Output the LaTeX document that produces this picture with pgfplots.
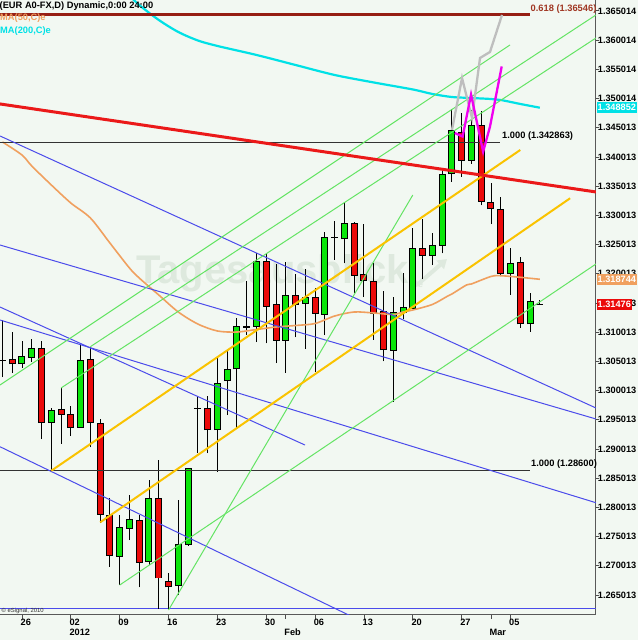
\documentclass[border=0pt]{standalone}
\usepackage{pgfplots}
\pgfplotsset{compat=1.18}
\usepackage{pgfplotstable}
\usepackage{fontspec}
\setmainfont{Liberation Sans}
\usetikzlibrary{arrows.meta}
\definecolor{bg}{RGB}{242,248,242}
\definecolor{wm}{RGB}{222,233,222}
\definecolor{cgreen}{RGB}{10,230,10}
\definecolor{cred}{RGB}{235,10,10}
\definecolor{maroon}{RGB}{150,30,20}
\definecolor{maroonT}{RGB}{160,55,35}
\definecolor{tline}{RGB}{235,25,25}
\definecolor{bline}{RGB}{75,75,235}
\definecolor{gline}{RGB}{100,228,100}
\definecolor{yline}{RGB}{250,195,0}
\definecolor{ma50}{RGB}{240,160,95}
\definecolor{ma200}{RGB}{0,225,230}
\definecolor{mag}{RGB}{240,0,240}
\definecolor{gry}{RGB}{190,190,190}

% green candles (close > open)
\pgfplotstableread{
i o h l c
0 1.3047 1.3085 1.3039 1.3057
1 1.3058 1.3088 1.3049 1.3071
3 1.2946 1.2970 1.2863 1.2965
6 1.2938 1.3081 1.2938 1.3051
10 1.2717 1.2787 1.2667 1.2764
11 1.2765 1.2821 1.2744 1.2778
13 1.2709 1.2847 1.2701 1.2814
16 1.2667 1.2813 1.2650 1.2736
17 1.2737 1.2867 1.2734 1.2865
20 1.2934 1.3056 1.2861 1.3012
21 1.3018 1.3067 1.2958 1.3036
22 1.3038 1.3125 1.2936 1.3109
24 1.3111 1.3236 1.3083 1.3220
27 1.3087 1.3220 1.3031 1.3162
29 1.3150 1.3208 1.3071 1.3158
31 1.3132 1.3271 1.3095 1.3261
33 1.3261 1.3322 1.3218 1.3286
38 1.3070 1.3161 1.2981 1.3133
39 1.3135 1.3201 1.3122 1.3141
40 1.3141 1.3278 1.3141 1.3242
42 1.3232 1.3269 1.3215 1.3248
43 1.3249 1.3376 1.3235 1.3369
44 1.3372 1.3482 1.3358 1.3445
46 1.3395 1.3480 1.3388 1.3453
50 1.3201 1.3244 1.3164 1.3216
52 1.3115 1.3167 1.3101 1.3151
}\greentab

% red candles (close < open)
\pgfplotstableread{
i o h l c
-1 1.3052 1.3100 1.3030 1.3047
2 1.3071 1.3085 1.2917 1.2946
4 1.2967 1.3004 1.2909 1.2960
5 1.2958 1.2974 1.2922 1.2938
7 1.3052 1.3075 1.2903 1.2946
8 1.2943 1.2951 1.2774 1.2789
9 1.2786 1.2816 1.2698 1.2719
12 1.2777 1.2787 1.2663 1.2707
14 1.2814 1.2881 1.2626 1.2680
15 1.2673 1.2687 1.2626 1.2665
19 1.2968 1.2991 1.2893 1.2934
25 1.3220 1.3235 1.3081 1.3145
26 1.3146 1.3216 1.3047 1.3087
28 1.3162 1.3199 1.3091 1.3148
30 1.3158 1.3175 1.3032 1.3133
34 1.3285 1.3289 1.3167 1.3198
35 1.3198 1.3286 1.3160 1.3189
36 1.3186 1.3218 1.3087 1.3133
37 1.3135 1.3170 1.3050 1.3071
41 1.3242 1.3294 1.3191 1.3232
45 1.3441 1.3475 1.3366 1.3395
47 1.3453 1.3478 1.3317 1.3325
48 1.3322 1.3356 1.3285 1.3312
49 1.3310 1.3332 1.3196 1.3201
51 1.3218 1.3229 1.3108 1.3115
}\redtab

% doji candles (open = close)
\pgfplotstableread{
i o h l c
-2 1.3052 1.3121 1.3023 1.3052
18 1.2970 1.2990 1.2893 1.2970
23 1.3109 1.3188 1.3096 1.3109
32 1.3262 1.3290 1.3224 1.3262
53 1.3148 1.3155 1.3147 1.3148
}\dojitab

% MA(50)
\pgfplotstableread{
i v
-2 1.34257
0 1.34034
1 1.33846
3 1.33521
5 1.33212
7 1.32956
9 1.32527
11 1.32099
12 1.31928
14 1.31637
16 1.31346
18 1.31140
20 1.31021
22 1.31003
24 1.31046
26 1.31089
28 1.31115
30 1.31149
32 1.31277
34 1.31346
36 1.31329
38 1.31303
39 1.31346
40 1.31380
42 1.31475
43.5 1.31612
44 1.31654
45.5 1.31809
46 1.31826
48 1.31954
49 1.31967
51 1.31940
53 1.31906
}\mafifty

% MA(200)
\pgfplotstableread{
i v
9 1.37373
10 1.37065
11 1.36774
12 1.36603
14 1.36346
16 1.36140
18 1.35995
20 1.35901
24 1.35747
28 1.35575
32 1.35404
36 1.35276
40 1.35156
42 1.35079
44 1.35027
46 1.35010
48 1.34993
49 1.34976
51 1.34908
53 1.34844
}\matwohundred

\begin{document}
\begin{tikzpicture}
\path[use as bounding box, fill=bg] (0pt,-25pt) rectangle (638pt,615pt);
% watermark
\node[anchor=west, inner sep=0pt, text=wm, font=\bfseries\fontsize{40}{40}\selectfont] at (136pt,342pt) {Tagesausblick};
\node[anchor=west, inner sep=0pt, text=wm, font=\bfseries\fontsize{9}{9}\selectfont] at (410pt,331pt) {.de};
\draw[wm, line width=4pt, -{Triangle[length=9pt,width=11pt]}] (417pt,330pt) -- (447pt,356pt);

\begin{axis}[
  at={(0pt,0pt)}, anchor=south west,
  scale only axis, width=596pt, height=615pt,
  xmin=-2.25, xmax=58.75, ymin=1.26158, ymax=1.36688,
  axis x line=bottom, axis y line=right,
  axis line style={draw=black!65, line width=1pt, -},
  tick align=outside,
  major tick length=3.5pt,
  tick style={draw=black!70, line width=0.8pt},
  xtick={0,5,10,15,20,25,27,30,35,40,45,48,50},
  xticklabels={\textbf{26},\textbf{02},\textbf{09},\textbf{16},\textbf{23},\textbf{30},{},\textbf{06},\textbf{13},\textbf{20},\textbf{27},{},\textbf{05}},
  ytick={1.265013,1.270013,1.275013,1.280013,1.285013,1.290013,1.295013,1.300013,1.305013,1.310013,1.315013,1.320013,1.325013,1.330013,1.335013,1.340013,1.345013,1.350014,1.355014,1.360014,1.365014},
  yticklabels={\textbf{1.265013},\textbf{1.270013},\textbf{1.275013},\textbf{1.280013},\textbf{1.285013},\textbf{1.290013},\textbf{1.295013},\textbf{1.300013},\textbf{1.305013},\textbf{1.310013},\textbf{1.315013},\textbf{1.320013},\textbf{1.325013},\textbf{1.330013},\textbf{1.335013},\textbf{1.340013},\textbf{1.345013},\textbf{1.350014},\textbf{1.355014},\textbf{1.360014},\textbf{1.365014}},
  xticklabel style={anchor=north west, inner sep=0pt, xshift=-1.5pt, yshift=-0.5pt},
  yticklabel style={anchor=west, inner sep=0pt, xshift=-1.8pt},
  tick label style={font=\bfseries\fontsize{9.2}{10}\selectfont},
  clip=true,
]
\coordinate (t2012) at (axis cs:5,1.26158);
\coordinate (tfeb) at (axis cs:27,1.26158);
\coordinate (tmar) at (axis cs:48,1.26158);
\coordinate (pcyan) at (axis cs:58.75,1.34844);
\coordinate (porange) at (axis cs:58.75,1.31906);
\coordinate (pred) at (axis cs:58.75,1.31476);

% horizontal blue support line at the bottom
\addplot[bline, line width=1.2pt] coordinates {(-2.25,1.26272) (58.75,1.26272)};

% ---- candles: green ----
\addplot[draw=none, mark=none, error bars/.cd, y dir=plus, y explicit, error mark=none,
  error bar style={draw=black, line width=0.9pt}]
  table[x=i, y=l, y error plus expr=\thisrow{h}-\thisrow{l}] {\greentab};
\addplot[draw=none, mark=none, error bars/.cd, y dir=plus, y explicit, error mark=none,
  error bar style={draw=black, line width=7pt}]
  table[x=i, y expr=\thisrow{o}-0.00017, y error plus expr=\thisrow{c}-\thisrow{o}+0.00034] {\greentab};
\addplot[draw=none, mark=none, error bars/.cd, y dir=plus, y explicit, error mark=none,
  error bar style={draw=cgreen, line width=5pt}]
  table[x=i, y=o, y error plus expr=\thisrow{c}-\thisrow{o}] {\greentab};
% ---- candles: red ----
\addplot[draw=none, mark=none, error bars/.cd, y dir=plus, y explicit, error mark=none,
  error bar style={draw=black, line width=0.9pt}]
  table[x=i, y=l, y error plus expr=\thisrow{h}-\thisrow{l}] {\redtab};
\addplot[draw=none, mark=none, error bars/.cd, y dir=plus, y explicit, error mark=none,
  error bar style={draw=black, line width=7pt}]
  table[x=i, y expr=\thisrow{c}-0.00017, y error plus expr=\thisrow{o}-\thisrow{c}+0.00034] {\redtab};
\addplot[draw=none, mark=none, error bars/.cd, y dir=plus, y explicit, error mark=none,
  error bar style={draw=cred, line width=5pt}]
  table[x=i, y=c, y error plus expr=\thisrow{o}-\thisrow{c}] {\redtab};
% ---- candles: doji ----
\addplot[draw=none, mark=none, error bars/.cd, y dir=plus, y explicit, error mark=none,
  error bar style={draw=black, line width=0.9pt}]
  table[x=i, y=l, y error plus expr=\thisrow{h}-\thisrow{l}] {\dojitab};
\addplot[draw=none, mark=none, error bars/.cd, y dir=plus, y explicit, error mark=none,
  error bar style={draw=black, line width=7pt}]
  table[x=i, y expr=\thisrow{o}-0.0001, y error plus expr=0.0002] {\dojitab};

% ---- moving averages ----
\addplot[ma50, line width=1.6pt, smooth] table[x=i, y=v] {\mafifty};
\addplot[ma200, line width=2.2pt, smooth] table[x=i, y=v] {\matwohundred};

% ---- horizontal Fibonacci levels ----
\addplot[black!80, line width=0.9pt] coordinates {(-2.25,1.34252) (48.93,1.34252)};
\addplot[black!80, line width=0.9pt] coordinates {(-2.25,1.28628) (52.0,1.28628)};

% ---- blue trend lines ----
\addplot[bline, line width=1pt] coordinates {(-2.25,1.34360) (58.75,1.29702)};
\addplot[bline, line width=1pt] coordinates {(-2.25,1.32493) (58.75,1.29514)};
\addplot[bline, line width=1pt] coordinates {(-2.25,1.31209) (58.75,1.28080)};
\addplot[bline, line width=1pt] coordinates {(-2.25,1.31431) (28.97,1.29068)};
\addplot[bline, line width=1pt] coordinates {(-2.25,1.29039) (34.08,1.26106)};

% ---- green channel lines ----
\addplot[gline, line width=1pt] coordinates {(-2.25,1.30096) (49.95,1.35918)};
\addplot[gline, line width=1pt] coordinates {(7.0,1.30752) (58.75,1.36432)};
\addplot[gline, line width=1pt] coordinates {(4.0,1.30045) (58.75,1.36038)};
\addplot[gline, line width=1pt] coordinates {(10.0,1.26671) (58.75,1.32168)};
\addplot[gline, line width=1pt] coordinates {(15.0,1.26243) (40.0,1.33349)};

% ---- yellow channel ----
\addplot[yline, line width=2pt] coordinates {(3.0,1.28628) (51.0,1.34120)};
\addplot[yline, line width=2pt] coordinates {(8.0,1.27745) (56.1,1.33293)};

% ---- red resistance line ----
\addplot[tline, line width=3pt] coordinates {(-2.25,1.34908) (58.75,1.33401)};

% ---- 0.618 level ----
\addplot[maroon, line width=3pt] coordinates {(-2.25,1.36432) (52.0,1.36432)};

% ---- projections ----
\addplot[gry, line width=2.3pt] coordinates {(44.01,1.34462) (45.04,1.35353) (46.06,1.34668) (46.88,1.35695) (47.90,1.35798) (49.13,1.36432)};
\addplot[mag, line width=2.3pt] coordinates {(44.3,1.3441) (45.1,1.3435) (45.96,1.3507) (47.2,1.3409) (47.9,1.3452) (49.1,1.3555)};
\end{axis}

% level labels, clipped at the plot edge
\begin{scope}
\clip (0pt,0pt) rectangle (596pt,615pt);
\node[anchor=west, inner sep=0pt, text=maroonT, font=\bfseries\fontsize{9.3}{10}\selectfont] at (530.5pt,605.7pt) {0.618 (1.36546)};
\node[anchor=west, inner sep=0pt, font=\bfseries\fontsize{9.3}{10}\selectfont] at (502pt,479pt) {1.000 (1.342863)};
\node[anchor=west, inner sep=0pt, font=\bfseries\fontsize{9.3}{10}\selectfont] at (531pt,151pt) {1.000 (1.28600)};
\node[anchor=west, inner sep=0pt, text=black!80, font=\fontsize{5.9}{6}\selectfont] at (1.5pt,4pt) {© eSignal, 2010};
\end{scope}

% header texts
\node[anchor=west, inner sep=0pt, font=\bfseries\fontsize{9.3}{10}\selectfont] at (-0.5pt,608.5pt) {(EUR A0-FX,D) Dynamic,0:00 24:00};
\node[anchor=west, inner sep=0pt, text=ma50, font=\bfseries\fontsize{9.3}{10}\selectfont] at (0pt,596.7pt) {MA(50,C)e};
\node[anchor=west, inner sep=0pt, text=ma200, font=\bfseries\fontsize{9.3}{10}\selectfont] at (0pt,584pt) {MA(200,C)e};

% month / year labels
\node[anchor=north west, inner sep=0pt, font=\bfseries\fontsize{9.2}{10}\selectfont] at ([xshift=-1.5pt,yshift=-14pt]t2012) {2012};
\node[anchor=north west, inner sep=0pt, font=\bfseries\fontsize{9.2}{10}\selectfont] at ([xshift=-1.5pt,yshift=-14pt]tfeb) {Feb};
\node[anchor=north west, inner sep=0pt, font=\bfseries\fontsize{9.2}{10}\selectfont] at ([xshift=-1.5pt,yshift=-14pt]tmar) {Mar};

% price boxes on the right scale
\node[anchor=west, fill=ma200, text=white, inner sep=1pt, minimum height=11pt, font=\bfseries\fontsize{9.2}{10}\selectfont] at ([xshift=0.5pt]pcyan) {1.348852};
\node[anchor=west, fill=ma50, text=white, inner sep=1pt, minimum height=11pt, font=\bfseries\fontsize{9.2}{10}\selectfont] at ([xshift=0.5pt]porange) {1.318744};
\node[anchor=west, fill=cred, text=white, inner sep=1pt, minimum height=11pt, font=\bfseries\fontsize{9.2}{10}\selectfont] at ([xshift=0.5pt]pred) {1.31476};
\end{tikzpicture}
\end{document}
